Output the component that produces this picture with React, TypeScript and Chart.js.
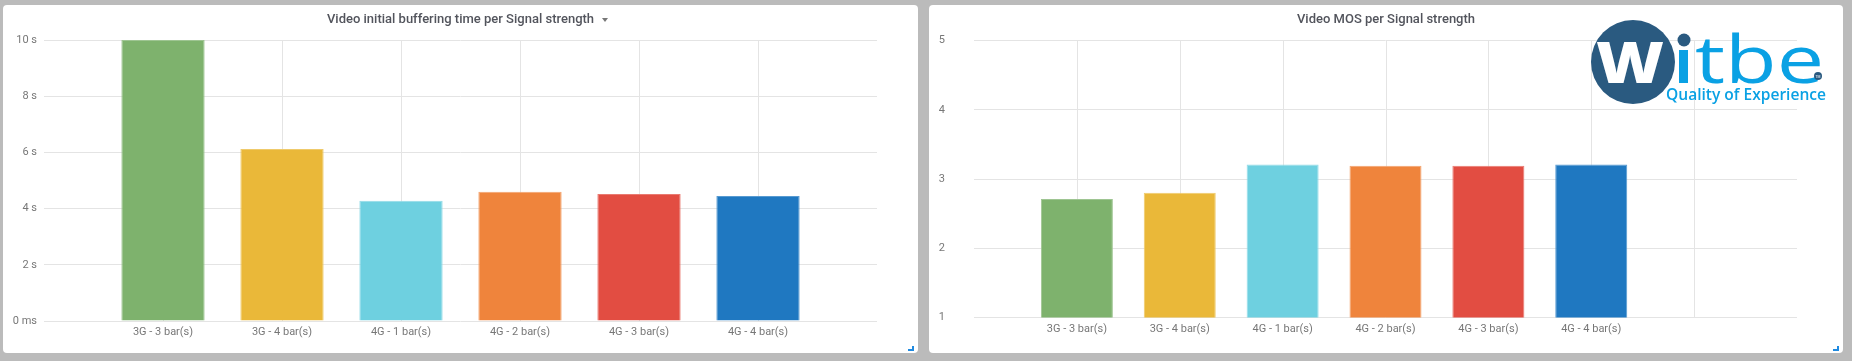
import React, { useEffect, useRef } from 'react';
import { Chart, registerables } from 'chart.js';

Chart.register(...registerables);

// ---- data ----
const categories = ['3G - 3 bar(s)', '3G - 4 bar(s)', '4G - 1 bar(s)', '4G - 2 bar(s)', '4G - 3 bar(s)', '4G - 4 bar(s)'];
const bufferingSeconds = [10.0, 6.12, 4.28, 4.6, 4.52, 4.45];
const mosValues = [2.71, 2.8, 3.21, 3.19, 3.19, 3.21];
const bufferingTickValues = [0, 2, 4, 6, 8, 10];
const bufferingTickLabels = ['0 ms', '2 s', '4 s', '6 s', '8 s', '10 s'];
const mosTickValues = [1, 2, 3, 4, 5];
const mosTickLabels = ['1', '2', '3', '4', '5'];

// ---- styles ----
const barColors = ['#7EB26D', '#EAB839', '#6ED0E0', '#EF843C', '#E24D42', '#1F78C1'];
const GRID = '#e4e4e4';
const TICK = '#777777';
const FONT = 'Roboto, "Open Sans", sans-serif';

function lighten(hex: string, amt: number): string {
  const n = parseInt(hex.slice(1), 16);
  const r = (n >> 16) & 255, g = (n >> 8) & 255, b = n & 255;
  const m = (c: number) => Math.round(c + (255 - c) * amt);
  return `rgb(${m(r)},${m(g)},${m(b)})`;
}

// vertical grid lines drawn at the x scale's interior ticks
const innerXGrid = {
  id: 'innerXGrid',
  beforeDatasetsDraw(chart: any) {
    const xs = chart.scales.x;
    const area = chart.chartArea;
    const ctx = chart.ctx;
    ctx.save();
    ctx.strokeStyle = GRID;
    ctx.lineWidth = 1;
    for (const t of xs.ticks) {
      const v = Number(t.value);
      if (v <= xs.min + 0.5 || v >= xs.max - 0.5) continue;
      const px = Math.round(xs.getPixelForValue(v)) + 0.5;
      ctx.beginPath();
      ctx.moveTo(px, area.top);
      ctx.lineTo(px, area.bottom);
      ctx.stroke();
    }
    ctx.restore();
  },
};

type PanelProps = {
  left: number; top: number; width: number; height: number;
  title: string; caret?: boolean;
  values: number[];
  yMin: number; yMax: number; yStep: number;
  yTickValues: number[]; yTickLabels: string[];
  xMax: number;
  yAxisWidth: number; yPad: number; padRight: number; padTop: number; xAxisHeight: number;
};

function BarPanel(p: PanelProps) {
  const ref = useRef<HTMLCanvasElement | null>(null);
  useEffect(() => {
    if (!ref.current) return;
    const chart = new Chart(ref.current, {
      type: 'bar',
      data: {
        datasets: [{
          data: p.values.map((v, i) => ({ x: i + 1, y: v })),
          backgroundColor: barColors,
          borderColor: barColors.map((c) => lighten(c, 0.25)),
          borderWidth: 1,
          categoryPercentage: 1,
          barPercentage: 0.7,
        }],
      },
      plugins: [innerXGrid],
      options: {
        responsive: false,
        maintainAspectRatio: false,
        animation: false,
        layout: { padding: { left: 0, right: p.padRight, top: p.padTop, bottom: 0 } },
        plugins: { legend: { display: false }, tooltip: { enabled: false }, title: { display: false } },
        scales: {
          x: {
            type: 'linear',
            min: 0, max: p.xMax,
            offset: false,
            border: { display: false },
            grid: { display: false, offset: false, drawTicks: false },
            ticks: {
              stepSize: 1,
              autoSkip: false,
              maxRotation: 0,
              padding: 5,
              color: TICK,
              font: { family: FONT, size: 11 },
              callback: (v: any) => categories[Math.round(Number(v)) - 1] ?? '',
            },
            afterFit: (s: any) => { s.height = p.xAxisHeight; },
          },
          y: {
            type: 'linear',
            min: p.yMin, max: p.yMax,
            border: { display: false },
            grid: { drawTicks: false, color: GRID },
            ticks: {
              stepSize: p.yStep,
              padding: p.yPad,
              color: TICK,
              font: { family: FONT, size: 11 },
              callback: (v: any) => {
                const i = p.yTickValues.indexOf(Number(v));
                return i >= 0 ? p.yTickLabels[i] : '';
              },
            },
            afterFit: (s: any) => { s.width = p.yAxisWidth; },
          },
        },
      } as any,
    });
    return () => chart.destroy();
  }, []);

  return (
    <div style={{ position: 'absolute', left: p.left, top: p.top, width: p.width, height: p.height, background: '#fff', borderRadius: 4, overflow: 'hidden' }}>
      <canvas ref={ref} width={p.width} height={p.height} style={{ position: 'absolute', left: 0, top: 0, width: p.width, height: p.height }} />
      <div style={{ position: 'absolute', left: 0, right: 0, top: 6, textAlign: 'center', fontFamily: FONT, fontSize: 13, fontWeight: 500, color: '#52545c', lineHeight: '16px', whiteSpace: 'nowrap' }}>
        <span style={{ position: 'relative', display: 'inline-block' }}>
          {p.title}
          {p.caret ? (
            <span style={{ position: 'absolute', left: 'calc(100% + 8px)', top: 7, width: 0, height: 0, borderLeft: '3.5px solid transparent', borderRight: '3.5px solid transparent', borderTop: '4px solid #777' }} />
          ) : null}
        </span>
      </div>
      <div style={{ position: 'absolute', right: 4, bottom: 2, width: 6, height: 5, borderRight: '2px solid #1f8ae0', borderBottom: '2px solid #1f8ae0', boxSizing: 'border-box' }} />
    </div>
  );
}

function WitbeLogo() {
  const dark = '#2a5a80';
  const light = '#0aa1e4';
  return (
    <svg width={1852} height={361} style={{ position: 'absolute', left: 0, top: 0, pointerEvents: 'none' }}>
      <circle cx={1633} cy={62} r={42} fill={dark} />
      <text x={1596} y={83} fill="#fff" fontFamily='"Open Sans", sans-serif' fontWeight={800} fontSize={57} textLength={68} lengthAdjust="spacingAndGlyphs">W</text>
      <rect x={1679} y={50} width={9} height={33} fill={light} />
      <circle cx={1684} cy={40} r={6.5} fill={dark} />
      <text x={1695} y={83} fill={light} fontFamily='"Open Sans", sans-serif' fontWeight={400} fontSize={66} textLength={129} lengthAdjust="spacingAndGlyphs">tbe</text>
      <circle cx={1818} cy={76} r={4} fill={dark} />
      <text x={1818} y={77.5} fill="#fff" fontFamily="sans-serif" fontSize={3.5} textAnchor="middle">TM</text>
      <text x={1666} y={99.5} fill={light} fontFamily='"Open Sans", sans-serif' fontWeight={600} fontSize={16} textLength={160} lengthAdjust="spacingAndGlyphs">Quality of Experience</text>
    </svg>
  );
}

export default function App() {
  return (
    <div style={{ position: 'absolute', left: 0, top: 0, width: 1852, height: 361, background: '#bbbbbb', overflow: 'hidden' }}>
      <BarPanel
        left={3} top={5} width={915} height={348}
        title="Video initial buffering time per Signal strength" caret
        values={bufferingSeconds}
        yMin={0} yMax={10} yStep={2}
        yTickValues={bufferingTickValues} yTickLabels={bufferingTickLabels}
        xMax={7}
        yAxisWidth={41} yPad={7} padRight={41} padTop={35} xAxisHeight={32}
      />
      <BarPanel
        left={929} top={5} width={914} height={348}
        title="Video MOS per Signal strength"
        values={mosValues}
        yMin={1} yMax={5} yStep={1}
        yTickValues={mosTickValues} yTickLabels={mosTickLabels}
        xMax={8}
        yAxisWidth={45} yPad={29} padRight={46} padTop={35} xAxisHeight={32}
      />
      <WitbeLogo />
    </div>
  );
}
